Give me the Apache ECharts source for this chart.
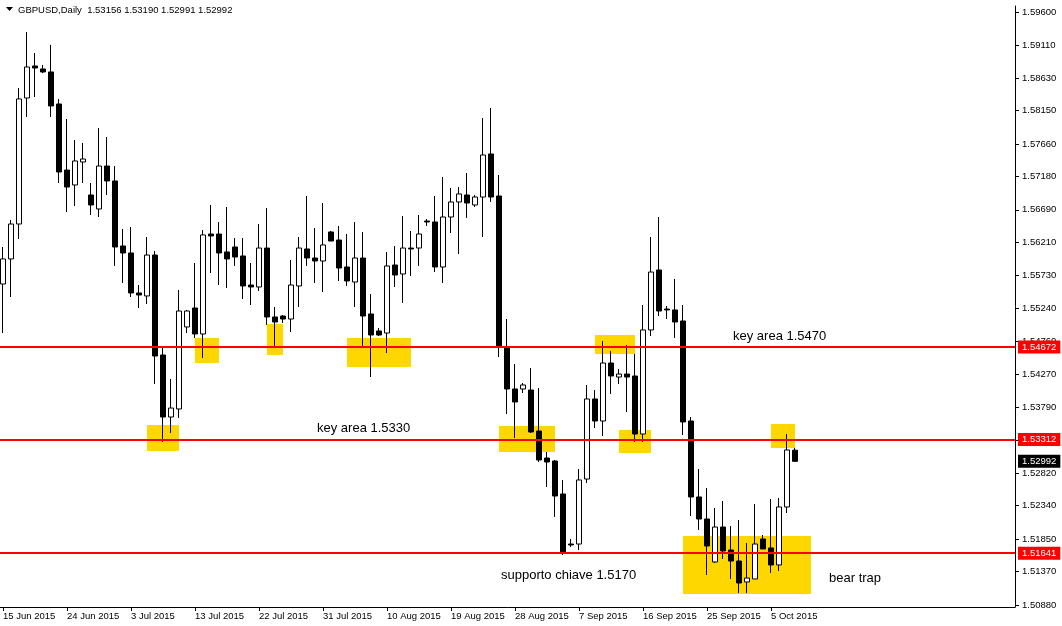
<!DOCTYPE html>
<html><head><meta charset="utf-8">
<script src="https://cdn.jsdelivr.net/npm/echarts@6/dist/echarts.min.js"></script>
<style>html,body{margin:0;padding:0;background:#fff}#c{width:1062px;height:626px}</style>
</head><body><div id="c"></div>
<script>
const symbolName = 'GBPUSD,Daily';
const dates = ['15 Jun 2015','16 Jun 2015','17 Jun 2015','18 Jun 2015','19 Jun 2015','21 Jun 2015',
'22 Jun 2015','23 Jun 2015','24 Jun 2015','25 Jun 2015','26 Jun 2015','28 Jun 2015',
'29 Jun 2015','30 Jun 2015','1 Jul 2015','2 Jul 2015','3 Jul 2015','5 Jul 2015',
'6 Jul 2015','7 Jul 2015','8 Jul 2015','9 Jul 2015','10 Jul 2015','12 Jul 2015',
'13 Jul 2015','14 Jul 2015','15 Jul 2015','16 Jul 2015','17 Jul 2015','19 Jul 2015',
'20 Jul 2015','21 Jul 2015','22 Jul 2015','23 Jul 2015','24 Jul 2015','26 Jul 2015',
'27 Jul 2015','28 Jul 2015','29 Jul 2015','30 Jul 2015','31 Jul 2015','2 Aug 2015',
'3 Aug 2015','4 Aug 2015','5 Aug 2015','6 Aug 2015','7 Aug 2015','9 Aug 2015',
'10 Aug 2015','11 Aug 2015','12 Aug 2015','13 Aug 2015','14 Aug 2015','16 Aug 2015',
'17 Aug 2015','18 Aug 2015','19 Aug 2015','20 Aug 2015','21 Aug 2015','23 Aug 2015',
'24 Aug 2015','25 Aug 2015','26 Aug 2015','27 Aug 2015','28 Aug 2015','30 Aug 2015',
'31 Aug 2015','1 Sep 2015','2 Sep 2015','3 Sep 2015','4 Sep 2015','6 Sep 2015',
'7 Sep 2015','8 Sep 2015','9 Sep 2015','10 Sep 2015','11 Sep 2015','13 Sep 2015',
'14 Sep 2015','15 Sep 2015','16 Sep 2015','17 Sep 2015','18 Sep 2015','20 Sep 2015',
'21 Sep 2015','22 Sep 2015','23 Sep 2015','24 Sep 2015','25 Sep 2015','27 Sep 2015',
'28 Sep 2015','29 Sep 2015','30 Sep 2015','1 Oct 2015','2 Oct 2015','4 Oct 2015',
'5 Oct 2015','6 Oct 2015','7 Oct 2015','8 Oct 2015'];

const open = [
1.55600,1.55968,1.56482,1.58335,1.58806,1.58762,
1.58718,1.58247,1.57276,1.57056,1.57394,1.56909,
1.56703,1.57335,1.57115,1.56159,1.56056,1.55468,
1.55424,1.56026,1.54556,1.53644,1.53762,1.54968,
1.55247,1.54865,1.56335,1.56335,1.56071,1.56144,
1.56012,1.55585,1.55556,1.56129,1.55115,1.55129,
1.55085,1.55571,1.56115,1.55982,1.55938,1.56365,
1.56247,1.55850,1.55629,1.55982,1.55159,1.54909,
1.54879,1.55879,1.55747,1.56129,1.56129,1.56526,
1.56512,1.55850,1.56585,1.56806,1.56909,1.56762,
1.56879,1.57512,1.56894,1.54659,1.54056,1.54056,
1.54041,1.53438,1.53041,1.52997,1.52512,1.51776,
1.51776,1.52732,1.53909,1.53585,1.54438,1.54232,
1.54276,1.54247,1.53394,1.54924,1.55806,1.55232,
1.55218,1.55056,1.53585,1.52468,1.52144,1.51512,
1.52026,1.51688,1.51526,1.51218,1.51262,1.51850,
1.51718,1.51468,1.52321,1.53156];
const high = [
1.56144,1.56541,1.58482,1.59306,1.58997,1.58821,
1.59115,1.58321,1.58026,1.57718,1.57674,1.57085,
1.57894,1.57762,1.57335,1.56409,1.56438,1.55585,
1.56291,1.56085,1.54674,1.54203,1.55512,1.55218,
1.55909,1.56394,1.56762,1.56512,1.56732,1.56276,
1.56276,1.55909,1.56482,1.56718,1.55262,1.55144,
1.55953,1.56291,1.56894,1.56424,1.56791,1.56379,
1.56453,1.56335,1.56512,1.56365,1.55453,1.54953,
1.56071,1.56159,1.56600,1.56379,1.56615,1.56556,
1.56894,1.57174,1.57012,1.57026,1.57232,1.56909,
1.58041,1.58188,1.57203,1.55085,1.54424,1.54144,
1.54365,1.54071,1.53129,1.53012,1.52718,1.51850,
1.52879,1.54115,1.54041,1.54762,1.54615,1.54350,
1.54703,1.54571,1.55291,1.56291,1.56585,1.55276,
1.55674,1.55291,1.53644,1.52879,1.52600,1.52306,
1.52409,1.52041,1.52129,1.51791,1.52365,1.51909,
1.52438,1.52453,1.53394,1.53190];
const low = [
1.54879,1.55409,1.56262,1.58056,1.58350,1.58703,
1.58056,1.57085,1.56659,1.56747,1.57085,1.56615,
1.56585,1.56909,1.55865,1.55615,1.55409,1.55247,
1.55306,1.54129,1.53276,1.53409,1.53629,1.54879,
1.54806,1.54512,1.55762,1.55585,1.55541,1.55865,
1.55379,1.55291,1.55497,1.54997,1.54674,1.55026,
1.54894,1.55262,1.55865,1.55615,1.55482,1.56232,
1.55644,1.55571,1.55262,1.54674,1.54232,1.54835,
1.54585,1.55556,1.55321,1.55718,1.55865,1.56453,
1.55776,1.55615,1.56350,1.56041,1.56571,1.56732,
1.56291,1.56806,1.54526,1.53688,1.53335,1.53997,
1.53409,1.52982,1.52615,1.52174,1.51615,1.51732,
1.51688,1.52674,1.53482,1.53365,1.53982,1.54129,
1.53718,1.53276,1.53276,1.54835,1.55129,1.55085,
1.54806,1.53379,1.52188,1.51982,1.51321,1.51497,
1.51556,1.51262,1.51056,1.51056,1.51262,1.51703,
1.51350,1.51379,1.52232,1.52991];
const close = [
1.55968,1.56482,1.58321,1.58791,1.58776,1.58718,
1.58218,1.57247,1.57026,1.57409,1.57438,1.56762,
1.57335,1.57115,1.56144,1.56056,1.55468,1.55438,
1.56026,1.54541,1.53644,1.53776,1.55203,1.55203,
1.54865,1.56321,1.56306,1.56056,1.55968,1.55997,
1.55571,1.55556,1.56129,1.55115,1.55041,1.55085,
1.55585,1.56129,1.55982,1.55938,1.56174,1.56232,
1.55835,1.55644,1.55982,1.55129,1.54850,1.54850,
1.55865,1.55732,1.56129,1.56115,1.56335,1.56512,
1.55850,1.56585,1.56806,1.56924,1.56791,1.56879,
1.57497,1.56879,1.54674,1.54056,1.53865,1.54115,
1.53424,1.53012,1.52982,1.52482,1.51644,1.51762,
1.52718,1.53909,1.53585,1.54438,1.54247,1.54276,
1.54232,1.53394,1.54924,1.55776,1.55203,1.55218,
1.55041,1.53571,1.52468,1.52144,1.51747,1.52026,
1.51674,1.51526,1.51203,1.51276,1.51776,1.51703,
1.51468,1.52321,1.53159,1.52992];

const priceTicks = [1.50880,1.51370,1.51850,1.52340,1.52820,1.53300,1.53790,1.54270,1.54760,
  1.55240,1.55730,1.56210,1.56690,1.57180,1.57660,1.58150,1.58630,1.59110,1.59600];
const keyLevels = [1.54672, 1.53312, 1.51641];
const lastPrice = 1.52992;
// highlighted zones: [from bar, upper price, to bar, lower price]
const zones = [
  [18,1.53526,22,1.53144],[24,1.54806,27,1.54438],[33,1.55012,35,1.54556],
  [43,1.54806,51,1.54379],[74,1.54850,79,1.54571],[62,1.53512,69,1.53129],
  [77,1.53453,81,1.53115],[96,1.53541,99,1.53188],[85,1.51894,101,1.51041]];
const notes = [
  ['key area 1.5470', 91, 1.54835],
  ['key area 1.5330', 39, 1.53482],
  ['supporto chiave 1.5170', 62, 1.51321],
  ['bear trap', 103, 1.51276]];

const PAD = 27;
const cats = dates.concat(Array(PAD).fill(''));
const candles = dates.map((d, i) => [open[i], close[i], low[i], high[i]]);
const F = 'Liberation Sans';
const every8 = (i, v) => i % 8 === 0 && v !== '';
const n = dates.length - 1;
const header = symbolName + '  ' + [open[n], high[n], low[n], close[n]].map(v => v.toFixed(5)).join(' ');

const chart = echarts.init(document.getElementById('c'), null, {renderer: 'canvas'});
chart.setOption({
  animation: false,
  backgroundColor: '#fff',
  title: {text: header, left: 18, top: 5, padding: 0,
    textStyle: {fontFamily: F, fontSize: 9.5, fontWeight: 'normal', color: '#000'}},
  graphic: [{type: 'polygon', shape: {points: [[6, 7], [13, 7], [9.5, 11]]}, style: {fill: '#000'}}],
  grid: {left: -1, right: 47, top: 6, bottom: 19, containLabel: false, outerBoundsMode: 'none'},
  xAxis: {
    type: 'category', data: cats, boundaryGap: true,
    axisLine: {lineStyle: {color: '#000', width: 1}},
    axisTick: {show: true, alignWithLabel: true, length: 4, interval: every8, lineStyle: {color: '#000'}},
    axisLabel: {interval: every8, align: 'left', margin: 4, fontFamily: F, fontSize: 9.5, color: '#000', hideOverlap: false},
    splitLine: {show: false}
  },
  yAxis: {
    type: 'value', position: 'right', min: 1.50850, max: 1.59688, scale: true,
    axisLine: {show: true, lineStyle: {color: '#000', width: 1}},
    axisTick: {show: true, length: 4, customValues: priceTicks, lineStyle: {color: '#000'}},
    axisLabel: {customValues: priceTicks, margin: 7, fontFamily: F, fontSize: 9.5, color: '#000',
      formatter: v => v.toFixed(5)},
    splitLine: {show: false}
  },
  series: [
    {
      type: 'line', data: [], z: 1, silent: true,
      markArea: {silent: true, itemStyle: {color: '#FFD700', opacity: 1},
        data: zones.map(z => [{coord: [z[0], z[1]]}, {coord: [z[2], z[3]]}])}
    },
    {
      type: 'candlestick', data: candles, barWidth: 5, z: 3,
      itemStyle: {color: '#ffffff', color0: '#000000', borderColor: '#000000', borderColor0: '#000000', borderWidth: 1}
    },
    {
      type: 'line', data: [], z: 5, silent: true,
      markLine: {
        silent: true, symbol: ['none', 'none'], precision: 5,
        lineStyle: {color: '#ff0000', width: 2, type: 'solid'},
        label: {show: true, position: 'end', distance: 3, formatter: p => p.value.toFixed(5),
          backgroundColor: '#ff0000', color: '#fff', padding: [2, 4, 1, 4], fontFamily: F, fontSize: 9.5},
        data: keyLevels.map(v => ({yAxis: v})).concat([{
          yAxis: lastPrice, lineStyle: {color: 'rgba(0,0,0,0)', width: 1},
          label: {backgroundColor: '#000', color: '#fff'}
        }])
      },
      markPoint: {
        silent: true, symbol: 'circle', symbolSize: 0,
        label: {show: true, position: 'right', distance: 2, fontFamily: F, fontSize: 13, color: '#000',
          formatter: p => p.name},
        data: notes.map(t => ({name: t[0], coord: [t[1], t[2]]}))
      }
    }
  ]
});
</script></body></html>
